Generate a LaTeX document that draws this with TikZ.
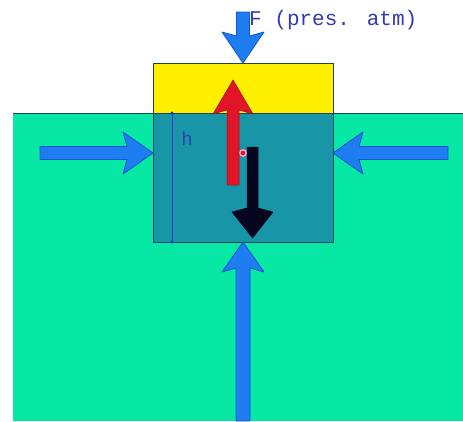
\documentclass[tikz,border=0pt]{standalone}
\usepackage{fontspec}
\newfontfamily\monof{Liberation Mono}
\definecolor{water}{RGB}{8,232,165}
\definecolor{boxc}{RGB}{24,150,168}
\definecolor{yell}{RGB}{255,240,0}
\definecolor{edgec}{RGB}{25,70,90}
\definecolor{blu}{RGB}{30,125,240}
\definecolor{bluedge}{RGB}{20,85,205}
\definecolor{redc}{RGB}{225,20,40}
\definecolor{blk}{RGB}{5,5,30}
\definecolor{hline}{RGB}{20,60,200}
\definecolor{txtc}{RGB}{50,60,175}
\begin{document}
\begin{tikzpicture}[x=1pt,y=-1pt,
  bluearrow/.style={fill=blu,draw=bluedge,line width=0.8pt,line join=round},
  redarrow/.style={fill=redc,draw=redc!70!black,line width=0.5pt},
  blkarrow/.style={fill=blk,draw=blk,line width=0.5pt},
  lbl/.style={inner sep=0pt,text=txtc}]
\fill[white] (0,0) rectangle (463,421);
\useasboundingbox (0,0) rectangle (463,421);
% water
\fill[water] (13,113) rectangle (463,421);
\draw[edgec,line width=0.8pt] (13,113) -- (463,113);
% floating block
\fill[yell] (153,63) rectangle (333,113);
\fill[boxc] (153,113) rectangle (333,242);
\draw[edgec,line width=0.9pt] (153,63) rectangle (333,242);
\draw[edgec,line width=0.8pt] (153,113) -- (333,113);
% height marker
\draw[hline,line width=1pt] (172,113) -- (172,242);
\fill[hline] (172,113) circle (1.6) (172,242) circle (1.6);
\node[lbl,font=\monof\fontsize{19}{19}\selectfont] (hl) at (187,139) {h};
% top force arrow
\filldraw[bluearrow] (236.5,12) -- (249.5,12) -- (249.5,36) -- (264,32) -- (243,63) -- (222,32) -- (236.5,36) -- cycle;
\node[lbl,anchor=west,font=\monof\fontsize{21}{21}\selectfont] (F) at (249,20) {F (pres. atm)};
% left arrow
\filldraw[bluearrow] (40,146.5) -- (127,146.5) -- (123,132) -- (153,153) -- (123,174) -- (127,159.5) -- (40,159.5) -- cycle;
% right arrow
\filldraw[bluearrow] (448,146.5) -- (359,146.5) -- (363,132) -- (333,153) -- (363,174) -- (359,159.5) -- (448,159.5) -- cycle;
% bottom arrow
\filldraw[bluearrow] (236,421) -- (236,268) -- (222,272) -- (243,242) -- (264,272) -- (250,268) -- (250,421) -- cycle;
% red buoyancy arrow
\filldraw[redarrow] (227,185) -- (227,110) -- (213,114) -- (233,80) -- (253,114) -- (239,110) -- (239,185) -- cycle;
% black weight arrow
\filldraw[blkarrow] (247,147) -- (258,147) -- (258,208) -- (273,212) -- (252.5,238) -- (232,212) -- (247,208) -- cycle;
% centre point
\draw[fill=redc,draw={rgb,255:red,255;green,170;blue,210},line width=1.3pt] (243,153) circle (3.2);
\end{tikzpicture}
\end{document}
